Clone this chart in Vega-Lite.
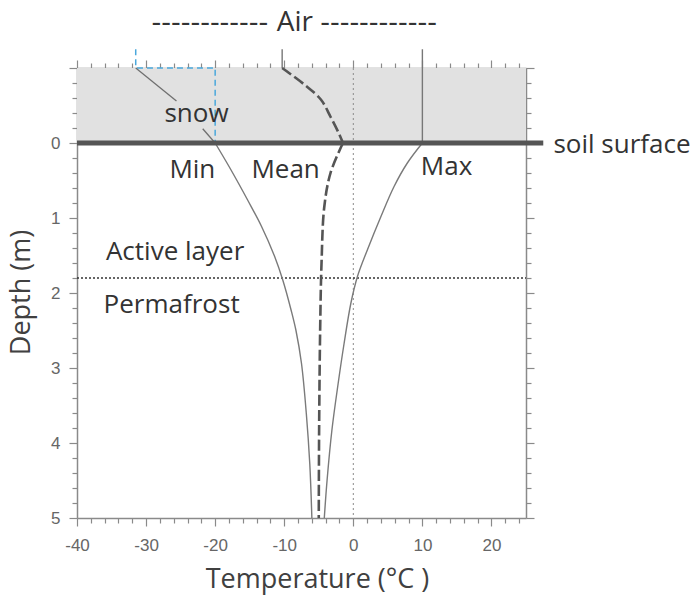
{
  "$schema": "https://vega.github.io/schema/vega-lite/v6.json",
  "autosize": {"type": "none"},
  "padding": {"left": 77, "top": 68, "right": 170, "bottom": 77},
  "width": 449,
  "height": 450,
  "background": "white",
  "config": {"view": {"stroke": null}},
  "datasets": {
    "curves": [
      {"series": "Min", "i": 1, "temp": -20.0, "depth": 0},
      {"series": "Min", "i": 2, "temp": -17.7, "depth": 0.36},
      {"series": "Min", "i": 3, "temp": -15.3, "depth": 0.76},
      {"series": "Min", "i": 4, "temp": -13.3, "depth": 1.11},
      {"series": "Min", "i": 5, "temp": -11.4, "depth": 1.51},
      {"series": "Min", "i": 6, "temp": -10.2, "depth": 1.83},
      {"series": "Min", "i": 7, "temp": -9.0, "depth": 2.23},
      {"series": "Min", "i": 8, "temp": -8.3, "depth": 2.5},
      {"series": "Min", "i": 9, "temp": -7.5, "depth": 2.94},
      {"series": "Min", "i": 10, "temp": -6.8, "depth": 3.61},
      {"series": "Min", "i": 11, "temp": -6.3, "depth": 4.28},
      {"series": "Min", "i": 12, "temp": -6.0, "depth": 5},
      {"series": "Max", "i": 1, "temp": 10.0, "depth": 0},
      {"series": "Max", "i": 2, "temp": 7.8, "depth": 0.27},
      {"series": "Max", "i": 3, "temp": 5.9, "depth": 0.58},
      {"series": "Max", "i": 4, "temp": 4.0, "depth": 0.98},
      {"series": "Max", "i": 5, "temp": 2.06, "depth": 1.42},
      {"series": "Max", "i": 6, "temp": 0.6, "depth": 1.78},
      {"series": "Max", "i": 7, "temp": -0.36, "depth": 2.14},
      {"series": "Max", "i": 8, "temp": -1.33, "depth": 2.67},
      {"series": "Max", "i": 9, "temp": -2.2, "depth": 3.21},
      {"series": "Max", "i": 10, "temp": -3.1, "depth": 3.83},
      {"series": "Max", "i": 11, "temp": -3.8, "depth": 4.5},
      {"series": "Max", "i": 12, "temp": -4.2, "depth": 5},
      {"series": "Mean air", "i": 1, "temp": -10.3, "depth": -1},
      {"series": "Mean air", "i": 2, "temp": -7.1, "depth": -0.78},
      {"series": "Mean air", "i": 3, "temp": -4.7, "depth": -0.58},
      {"series": "Mean air", "i": 4, "temp": -3.3, "depth": -0.35},
      {"series": "Mean air", "i": 5, "temp": -2.1, "depth": -0.13},
      {"series": "Mean air", "i": 6, "temp": -1.5, "depth": 0},
      {"series": "Mean soil", "i": 1, "temp": -1.5, "depth": 0},
      {"series": "Mean soil", "i": 2, "temp": -3.3, "depth": 0.4},
      {"series": "Mean soil", "i": 3, "temp": -4.2, "depth": 0.85},
      {"series": "Mean soil", "i": 4, "temp": -4.6, "depth": 1.6},
      {"series": "Mean soil", "i": 5, "temp": -4.8, "depth": 2.49},
      {"series": "Mean soil", "i": 6, "temp": -4.95, "depth": 3.83},
      {"series": "Mean soil", "i": 7, "temp": -5.0, "depth": 5}
    ],
    "labels": [
      {"text": "snow", "temp": -22.7, "depth": -0.28},
      {"text": "Min", "temp": -23.3, "depth": 0.466},
      {"text": "Mean", "temp": -9.8, "depth": 0.466},
      {"text": "Max", "temp": 13.5, "depth": 0.424},
      {"text": "Active layer", "temp": -25.8, "depth": 1.56},
      {"text": "Permafrost", "temp": -26.3, "depth": 2.27},
      {"text": "soil surface", "temp": 38.9, "depth": 0.134}
    ],
    "air": [
      {"text": "------------", "temp": -12.3, "depth": -1.493, "part": "left"},
      {"text": "Air", "temp": -8.45, "depth": -1.493, "part": "mid"},
      {"text": "------------", "temp": -4.8, "depth": -1.493, "part": "right"}
    ]
  },
  "resolve": {"axis": {"x": "independent", "y": "independent"}},
  "layer": [
    {
      "data": {"values": [{"t1": -40, "t2": 25, "d1": -1, "d2": 0}]},
      "mark": {"type": "rect", "color": "#e1e1e1"},
      "encoding": {
        "x": {"field": "t1", "type": "quantitative",
          "scale": {"domain": [-40, 25], "nice": false, "zero": false},
          "axis": {
            "orient": "bottom",
            "values": [-40,-38,-36,-34,-32,-30,-28,-26,-24,-22,-20,-18,-16,-14,-12,-10,-8,-6,-4,-2,0,2,4,6,8,10,12,14,16,18,20,22,24],
            "labelExpr": "datum.value % 10 === 0 ? '' + datum.value : ''",
            "tickSize": {"condition": {"test": "datum.value % 10 === 0", "value": 8}, "value": 5},
            "tickColor": "#8a8a8a", "tickWidth": 1.2,
            "domainColor": "#8a8a8a", "domainWidth": 1.5,
            "grid": false,
            "labelFont": "Liberation Sans", "labelFontSize": 17, "labelColor": "#666666",
            "labelPadding": 11, "labelFlush": false, "labelOverlap": false,
            "title": "Temperature (°C )",
            "titleFont": "Open Sans", "titleFontSize": 27, "titleFontWeight": "normal", "titleColor": "#404040",
            "titleX": 240, "titleY": 69, "titleAlign": "center", "titleBaseline": "alphabetic"
          }},
        "x2": {"field": "t2"},
        "y": {"field": "d1", "type": "quantitative",
          "scale": {"domain": [-1, 5], "reverse": true, "nice": false, "zero": false},
          "axis": {
            "orient": "left",
            "values": [-1,-0.8,-0.6,-0.4,-0.2,0,0.2,0.4,0.6,0.8,1,1.2,1.4,1.6,1.8,2,2.2,2.4,2.6,2.8,3,3.2,3.4,3.6,3.8,4,4.2,4.4,4.6,4.8,5],
            "labelExpr": "datum.value >= 0 && abs(datum.value - round(datum.value)) < 0.001 ? '' + round(datum.value) : ''",
            "tickSize": {"condition": {"test": "abs(datum.value - round(datum.value)) < 0.001", "value": 8}, "value": 5},
            "tickColor": "#8a8a8a", "tickWidth": 1.2,
            "domainColor": "#8a8a8a", "domainWidth": 1.5,
            "grid": false,
            "labelFont": "Liberation Sans", "labelFontSize": 17, "labelColor": "#666666",
            "labelPadding": 9, "labelFlush": false, "labelOverlap": false,
            "title": "Depth (m)",
            "titleFont": "Open Sans", "titleFontSize": 27, "titleFontWeight": "normal", "titleColor": "#404040",
            "titleAngle": -90, "titleX": -48, "titleY": 224, "titleAlign": "center", "titleBaseline": "alphabetic"
          }},
        "y2": {"field": "d2"}
      }
    },
    {
      "data": {"values": [{"t": 0, "d1": -1, "d2": 5}]},
      "mark": {"type": "rule", "color": "#8a8a8a", "strokeWidth": 1, "strokeDash": [2, 3]},
      "encoding": {
        "x": {"field": "t", "type": "quantitative",
          "axis": {
            "orient": "top",
            "values": [-40,-38,-36,-34,-32,-30,-28,-26,-24,-22,-20,-18,-16,-14,-12,-10,-8,-6,-4,-2,0,2,4,6,8,10,12,14,16,18,20,22,24],
            "labels": false, "title": null, "grid": false,
            "tickSize": {"condition": {"test": "datum.value % 10 === 0", "value": 8}, "value": 5},
            "tickColor": "#8a8a8a", "tickWidth": 1.2,
            "domainColor": "#8a8a8a", "domainWidth": 1.5
          }},
        "y": {"field": "d1", "type": "quantitative",
          "axis": {
            "orient": "right",
            "values": [-1,-0.8,-0.6,-0.4,-0.2,0,0.2,0.4,0.6,0.8,1,1.2,1.4,1.6,1.8,2,2.2,2.4,2.6,2.8,3,3.2,3.4,3.6,3.8,4,4.2,4.4,4.6,4.8,5],
            "labels": false, "title": null, "grid": false,
            "tickSize": {"condition": {"test": "abs(datum.value - round(datum.value)) < 0.001", "value": 8}, "value": 5},
            "tickColor": "#8a8a8a", "tickWidth": 1.2,
            "domainColor": "#8a8a8a", "domainWidth": 1.5
          }},
        "y2": {"field": "d2"}
      }
    },
    {
      "data": {"values": [{"d": 1.8, "t1": -40, "t2": 25}]},
      "mark": {"type": "rule", "color": "#333333", "strokeWidth": 1.6, "strokeDash": [2, 2]},
      "encoding": {
        "y": {"field": "d", "type": "quantitative", "axis": null},
        "x": {"field": "t1", "type": "quantitative", "axis": null},
        "x2": {"field": "t2"}
      }
    },
    {
      "data": {"values": [{"t": -10.3, "d1": -1.25, "d2": -1}, {"t": 10, "d1": -1.25, "d2": 0}]},
      "mark": {"type": "rule", "color": "#777777", "strokeWidth": 1.4},
      "encoding": {
        "x": {"field": "t", "type": "quantitative", "axis": null},
        "y": {"field": "d1", "type": "quantitative", "axis": null},
        "y2": {"field": "d2"}
      }
    },
    {
      "data": {"values": [
        {"i": 1, "temp": -31.5, "depth": -1.25},
        {"i": 2, "temp": -31.5, "depth": -1},
        {"i": 3, "temp": -20, "depth": -1},
        {"i": 4, "temp": -20, "depth": 0}
      ]},
      "mark": {"type": "line", "color": "#4aa8dc", "strokeWidth": 1.5, "strokeDash": [6, 4]},
      "encoding": {
        "x": {"field": "temp", "type": "quantitative", "axis": null},
        "y": {"field": "depth", "type": "quantitative", "axis": null},
        "order": {"field": "i"}
      }
    },
    {
      "data": {"values": [
        {"seg": "a", "temp": -31.5, "depth": -1},
        {"seg": "a", "temp": -25.6, "depth": -0.56},
        {"seg": "b", "temp": -21.8, "depth": -0.19},
        {"seg": "b", "temp": -20, "depth": 0}
      ]},
      "mark": {"type": "line", "color": "#707070", "strokeWidth": 1.3},
      "encoding": {
        "x": {"field": "temp", "type": "quantitative", "axis": null},
        "y": {"field": "depth", "type": "quantitative", "axis": null},
        "detail": {"field": "seg"}
      }
    },
    {
      "data": {"name": "curves"},
      "transform": [{"filter": "datum.series === 'Min' || datum.series === 'Max'"}],
      "mark": {"type": "line", "color": "#7a7a7a", "strokeWidth": 1.4, "interpolate": "catmull-rom"},
      "encoding": {
        "x": {"field": "temp", "type": "quantitative", "axis": null},
        "y": {"field": "depth", "type": "quantitative", "axis": null},
        "detail": {"field": "series"},
        "order": {"field": "i"}
      }
    },
    {
      "data": {"name": "curves"},
      "transform": [{"filter": "datum.series === 'Mean air' || datum.series === 'Mean soil'"}],
      "mark": {"type": "line", "color": "#555555", "strokeWidth": 2.6, "strokeDash": [11, 4], "interpolate": "catmull-rom"},
      "encoding": {
        "x": {"field": "temp", "type": "quantitative", "axis": null},
        "y": {"field": "depth", "type": "quantitative", "axis": null},
        "detail": {"field": "series"},
        "order": {"field": "i"}
      }
    },
    {
      "data": {"values": [{"d": 0, "t1": -40, "t2": 27.5}]},
      "mark": {"type": "rule", "color": "#555555", "strokeWidth": 5},
      "encoding": {
        "y": {"field": "d", "type": "quantitative", "axis": null},
        "x": {"field": "t1", "type": "quantitative", "axis": null},
        "x2": {"field": "t2"}
      }
    },
    {
      "data": {"name": "labels"},
      "mark": {"type": "text", "font": "Open Sans", "fontSize": 26, "color": "#333333", "align": "center", "baseline": "alphabetic"},
      "encoding": {
        "x": {"field": "temp", "type": "quantitative", "axis": null},
        "y": {"field": "depth", "type": "quantitative", "axis": null},
        "text": {"field": "text"}
      }
    },
    {
      "data": {"name": "air"},
      "transform": [{"filter": "datum.part === 'mid'"}],
      "mark": {"type": "text", "font": "Open Sans", "fontSize": 28, "color": "#333333", "align": "center", "baseline": "alphabetic"},
      "encoding": {
        "x": {"field": "temp", "type": "quantitative", "axis": null},
        "y": {"field": "depth", "type": "quantitative", "axis": null},
        "text": {"field": "text"}
      }
    },
    {
      "data": {"name": "air"},
      "transform": [{"filter": "datum.part === 'left'"}],
      "mark": {"type": "text", "font": "DejaVu Sans", "fontSize": 27, "color": "#333333", "align": "right", "baseline": "alphabetic"},
      "encoding": {
        "x": {"field": "temp", "type": "quantitative", "axis": null},
        "y": {"field": "depth", "type": "quantitative", "axis": null},
        "text": {"field": "text"}
      }
    },
    {
      "data": {"name": "air"},
      "transform": [{"filter": "datum.part === 'right'"}],
      "mark": {"type": "text", "font": "DejaVu Sans", "fontSize": 27, "color": "#333333", "align": "left", "baseline": "alphabetic"},
      "encoding": {
        "x": {"field": "temp", "type": "quantitative", "axis": null},
        "y": {"field": "depth", "type": "quantitative", "axis": null},
        "text": {"field": "text"}
      }
    }
  ]
}
